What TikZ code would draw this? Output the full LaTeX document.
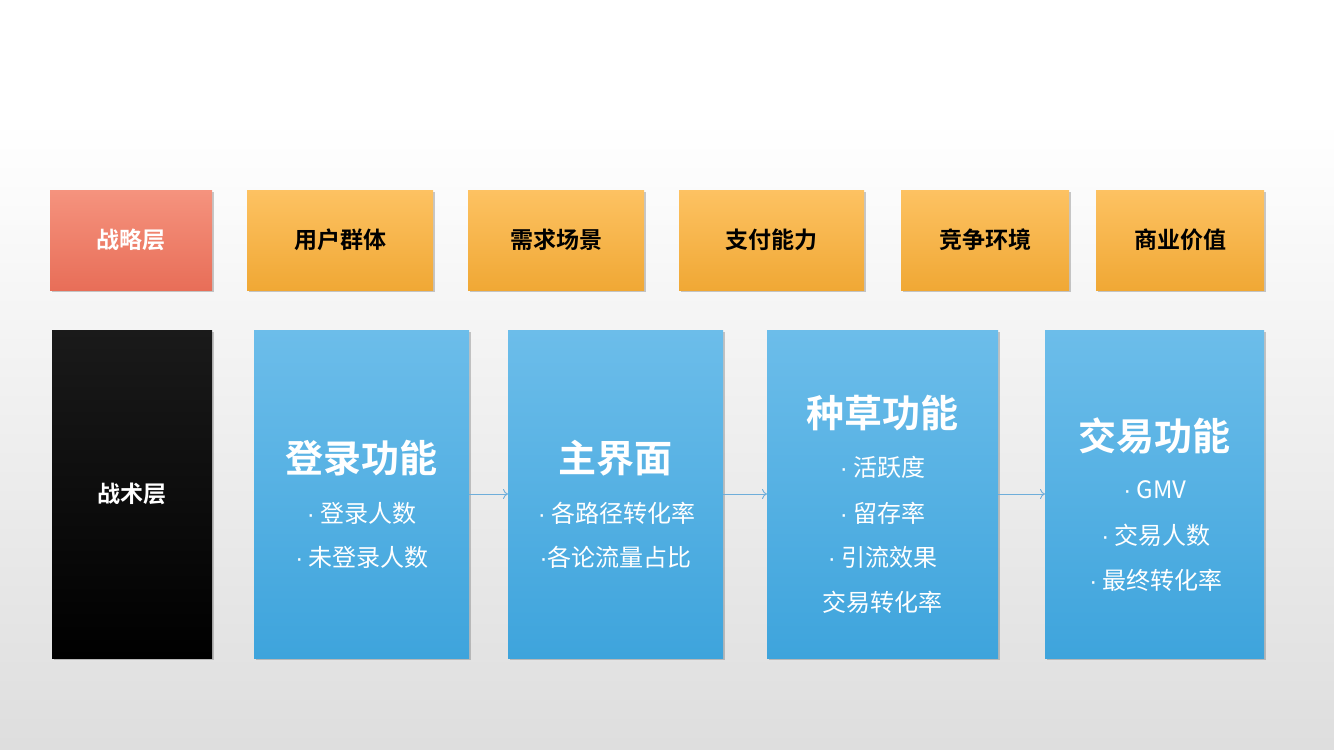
\documentclass[tikz,border=0pt]{standalone}
\usepackage{fontspec}
\setmainfont{Noto Sans CJK SC}
\newfontfamily\cjkb{Noto Sans CJK SC Bold}
\newfontfamily\latdot{Liberation Sans}
\newcommand{\bdot}{{\latdot ·}}
\usetikzlibrary{shadows,arrows.meta}
\definecolor{redtop}{HTML}{F5937E}
\definecolor{redbot}{HTML}{E86E58}
\definecolor{ortop}{HTML}{FDC262}
\definecolor{orbot}{HTML}{F0A835}
\definecolor{bltop}{HTML}{6CBDEA}
\definecolor{blbot}{HTML}{3EA4DC}
\definecolor{bktop}{HTML}{1A1A1A}
\definecolor{bkbot}{HTML}{000000}
\definecolor{arrowc}{HTML}{6FAEDA}
\begin{document}
\begin{tikzpicture}[x=1pt,y=-1pt,
  box/.style={inner sep=0pt,outer sep=0pt,
    drop shadow={shadow xshift=1.5pt,shadow yshift=-1.5pt,opacity=0.35,fill=black!60}},
  redbox/.style={box,top color=redtop,bottom color=redbot},
  orbox/.style={box,top color=ortop,bottom color=orbot},
  blbox/.style={box,top color=bltop,bottom color=blbot},
  bkbox/.style={box,top color=bktop,bottom color=bkbot},
  lbl/.style={font=\cjkb\fontsize{23}{28}\selectfont},
  ttl/.style={font=\cjkb\fontsize{38}{44}\selectfont,text=white},
  itm/.style={font=\fontsize{24}{28}\selectfont,text=white},
  flow/.style={draw=arrowc,line width=0.9pt,-{To[length=5pt,width=10pt]}}
]
\useasboundingbox (0,0) rectangle (1334,750);
\fill[white] (0,0) rectangle (1334,120);
\shade[top color=white,bottom color=black!13] (0,120) rectangle (1334,750);

% top row
\path[redbox] (50,190) rectangle (212,290);
\node[lbl,text=white] (s0) at (131,240) {战略层};
\path[orbox] (247,190) rectangle (433,290);
\node[lbl] (s1) at (340,240) {用户群体};
\path[orbox] (468,190) rectangle (644,290);
\node[lbl] (s2) at (556,240) {需求场景};
\path[orbox] (679,190) rectangle (864,290);
\node[lbl] (s3) at (771.5,240) {支付能力};
\path[orbox] (901,190) rectangle (1069,290);
\node[lbl] (s4) at (985,240) {竞争环境};
\path[orbox] (1096,190) rectangle (1264,290);
\node[lbl] (s5) at (1180,240) {商业价值};

% bottom row
\path[bkbox] (52,330) rectangle (212,658);
\node[lbl,text=white] (t0) at (132,494) {战术层};

\node[blbox,minimum width=215pt,minimum height=328pt] (b1) at (361.5,494) {};
\node[blbox,minimum width=215pt,minimum height=328pt] (b2) at (615.5,494) {};
\node[blbox,minimum width=231pt,minimum height=328pt] (b3) at (882.5,494) {};
\node[blbox,minimum width=219pt,minimum height=328pt] (b4) at (1154.5,494) {};

\node[ttl] (h1) at (361.5,458) {登录功能};
\node[itm] (i11) at (361.5,513) {\bdot\ 登录人数};
\node[itm] (i12) at (362,557) {\bdot\ 未登录人数};

\node[ttl] (h2) at (615.5,458) {主界面};
\node[itm] (i21) at (616.5,513) {\bdot\ 各路径转化率};
\node[itm] (i22) at (615.5,557) {\bdot 各论流量占比};

\node[ttl] (h3) at (882.5,413) {种草功能};
\node[itm] (i31) at (882.5,467) {\bdot\ 活跃度};
\node[itm] (i32) at (882.5,513) {\bdot\ 留存率};
\node[itm] (i33) at (882.5,557) {\bdot\ 引流效果};
\node[itm] (i34) at (882.5,602) {交易转化率};

\node[ttl] (h4) at (1154.5,436) {交易功能};
\node[itm] (i41) at (1155,490) {\bdot\ GMV};
\node[itm] (i42) at (1156,535) {\bdot\ 交易人数};
\node[itm] (i43) at (1156,580) {\bdot\ 最终转化率};

\draw[flow] (b1.east) -- (b2.west);
\draw[flow] (b2.east) -- (b3.west);
\draw[flow] (b3.east) -- (b4.west);
\end{tikzpicture}
\end{document}
